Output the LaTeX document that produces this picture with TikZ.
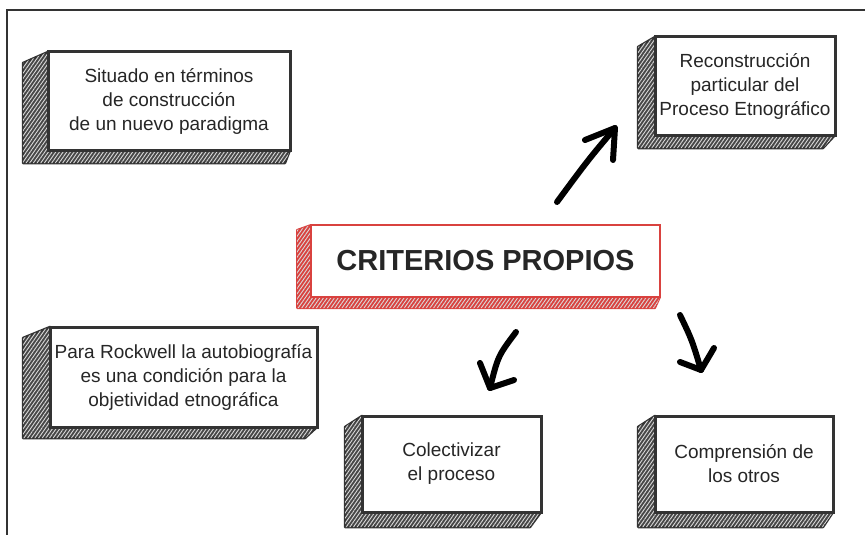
\documentclass[tikz,border=0pt]{standalone}
\usepackage{fontspec}
\setmainfont{Liberation Sans}
\usetikzlibrary{calc,patterns.meta,backgrounds}
\definecolor{ink}{HTML}{333333}
\definecolor{txt}{HTML}{262626}
\definecolor{redb}{HTML}{D9423F}
\pgfdeclarelayer{paper}
\pgfsetlayers{paper,background,main}

\tikzset{
 front/.style={draw=ink, line width=3pt, fill=white, outer sep=0pt, inner sep=0pt,
   align=center, text=txt, font=\fontsize{19}{24}\selectfont},
 face/.style={draw=ink, line width=2.5pt, line join=round, fill=black!72,
   postaction={pattern={Lines[angle=55,distance=3pt,line width=0.9pt]}, pattern color=white!85!black}},
 redfront/.style={front, draw=redb, line width=2pt, font=\fontsize{29}{34}\selectfont\bfseries},
 redface/.style={face, draw=redb, line width=2pt, fill=redb},
 inkarrow/.style={draw=black, line width=6pt, line cap=round, line join=round},
 frameline/.style={draw=ink, line width=2pt},
}
\newcommand\sidefaces[6]{%
 \path[#6] (#1.north west) -- ($(#1.north west)+(-#2,#3)$) -- ($(#1.south west)+(-#2,#4)$)
   -- ($(#1.south east)+(-#5,#4)$) -- (#1.south east) -- (#1.south west) -- cycle;}

\begin{document}
\begin{tikzpicture}[x=1pt,y=-1pt]
\useasboundingbox (0,0) rectangle (865,535);
\begin{pgfonlayer}{paper}
\fill[white] (0,0) rectangle (865,535);
\end{pgfonlayer}

\coordinate (fbl) at (7,535);
\coordinate (ftl) at (7,10);
\coordinate (ftr) at (865,10);
\draw[frameline] (fbl) -- (ftl) -- (ftr);

\node[front, minimum width=242, minimum height=98] (b1) at (169,101)
  {Situado en términos\\de construcción\\de un nuevo paradigma};
\node[front, minimum width=180, minimum height=98] (b2) at (745,86)
  {Reconstrucción\\particular del\\Proceso Etnográfico};
\node[redfront, minimum width=349, minimum height=72] (c) at (485.5,261)
  {CRITERIOS PROPIOS};
\node[front, minimum width=267, minimum height=100] (b4) at (183.5,377)
  {Para Rockwell la autobiografía\\es una condición para la\\objetividad etnográfica};
\node[front, minimum width=179, minimum height=96] (b5) at (451.5,464)
  {Colectivizar\\el proceso};
\node[front, minimum width=178, minimum height=96] (b6) at (744,464)
  {Comprensión de\\los otros};

\begin{scope}[on background layer]
\sidefaces{b1}{25}{11}{13}{5}{face}
\sidefaces{b2}{17}{10}{13}{12}{face}
\sidefaces{c}{14}{5}{11}{5}{redface}
\sidefaces{b4}{27}{11}{11}{12}{face}
\sidefaces{b5}{17}{11}{15}{11}{face}
\sidefaces{b6}{17}{11}{15}{10}{face}
\end{scope}

% arrow 1 (up-right)
\coordinate (a1s) at (557,202);
\coordinate (a1t) at (615,128);
\coordinate (a1l) at (585,140);
\coordinate (a1r) at (613,160);
\draw[inkarrow] (a1s) .. controls (588,160) .. (a1t);
\draw[inkarrow] (a1l) -- (a1t) -- (a1r);

% arrow 2 (down-left)
\coordinate (a2s) at (516,332);
\coordinate (a2t) at (490,388);
\coordinate (a2l) at (480,363);
\coordinate (a2r) at (514,380);
\draw[inkarrow] (a2s) .. controls (498,356) .. (a2t);
\draw[inkarrow] (a2l) -- (a2t) -- (a2r);

% arrow 3 (down)
\coordinate (a3s) at (680,315);
\coordinate (a3t) at (701,370);
\coordinate (a3l) at (680,362);
\coordinate (a3r) at (714,348);
\draw[inkarrow] (a3s) .. controls (692,340) .. (a3t);
\draw[inkarrow] (a3l) -- (a3t) -- (a3r);
\end{tikzpicture}
\end{document}
